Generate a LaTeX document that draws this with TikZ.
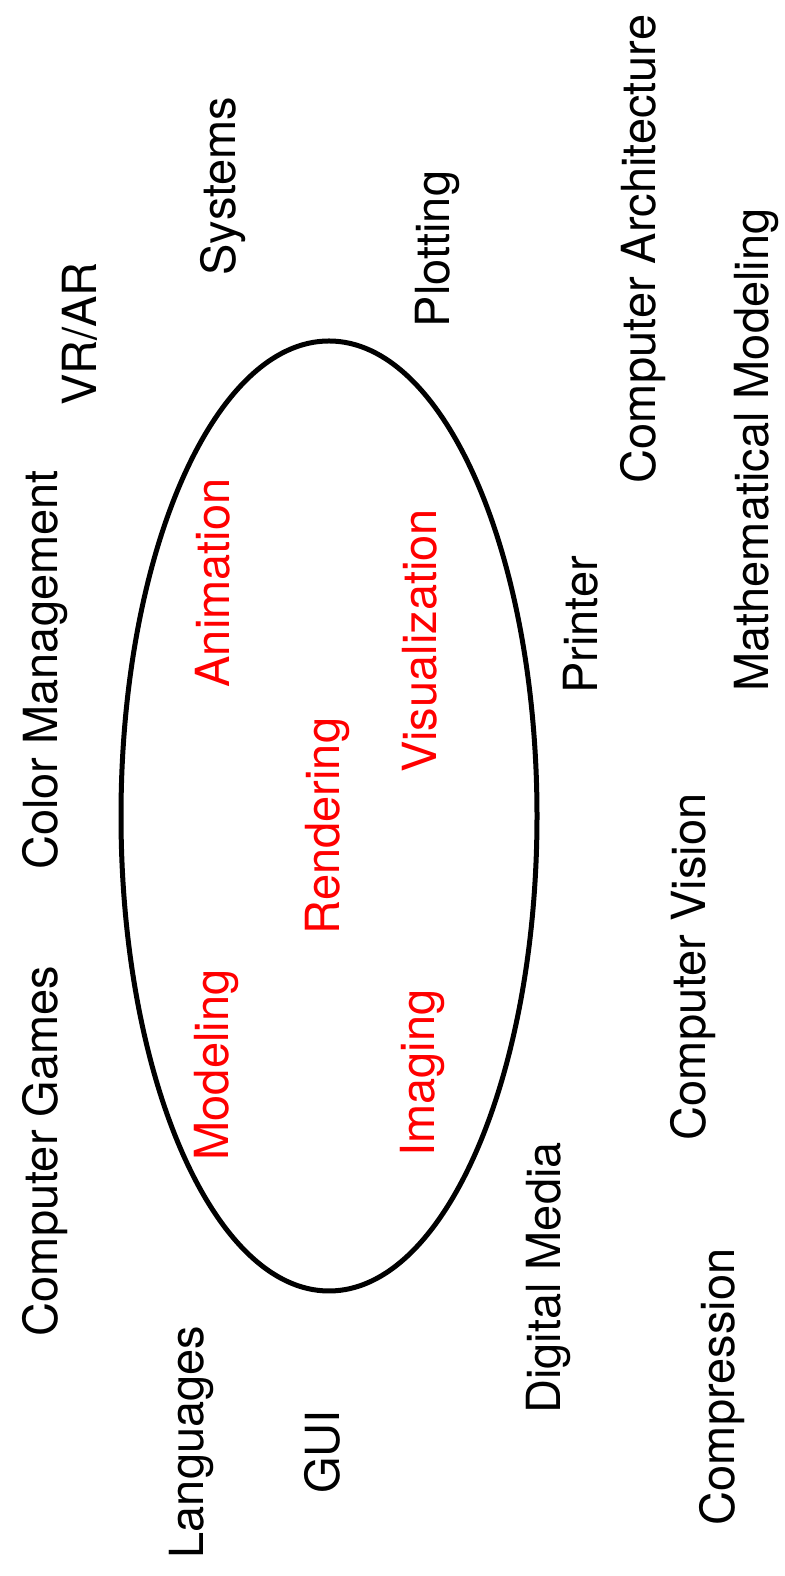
\documentclass[tikz,border=0pt]{standalone}
\usepackage{fontspec}
\setmainfont{TeX Gyre Heros}
\begin{document}
\begin{tikzpicture}[x=1pt,y=1pt,
  lbl/.style={rotate=90,inner sep=0pt,font=\fontsize{47}{56}\selectfont},
  red lbl/.style={lbl,text=red}]
\useasboundingbox (0,0) rectangle (784,1576);
\draw[line width=5pt] (329,760) ellipse [x radius=208, y radius=475];
\node[lbl] (cg) at (45,425) {Computer Games};
\node[lbl] (cm) at (45,906) {Color Management};
\node[lbl] (vr) at (80,1242) {VR/AR};
\node[lbl] (sys) at (223,1390) {Systems};
\node[lbl] (plot) at (437,1327) {Plotting};
\node[lbl] (ca) at (643,1327) {Computer Architecture};
\node[lbl] (mm) at (756,1126) {Mathematical Modeling};
\node[lbl] (pr) at (581,951) {Printer};
\node[lbl] (cv) at (693,609) {Computer Vision};
\node[lbl] (dm) at (548,298) {Digital Media};
\node[lbl] (comp) at (722,189) {Compression};
\node[lbl] (lang) at (191,134) {Languages};
\node[lbl] (gui) at (322,124) {GUI};
\node[red lbl] (anim) at (213,993) {Animation};
\node[red lbl] (rend) at (327,750) {Rendering};
\node[red lbl] (vis) at (420,935) {Visualization};
\node[red lbl] (mod) at (216,511) {Modeling};
\node[red lbl] (img) at (422,503) {Imaging};
\end{tikzpicture}
\end{document}
